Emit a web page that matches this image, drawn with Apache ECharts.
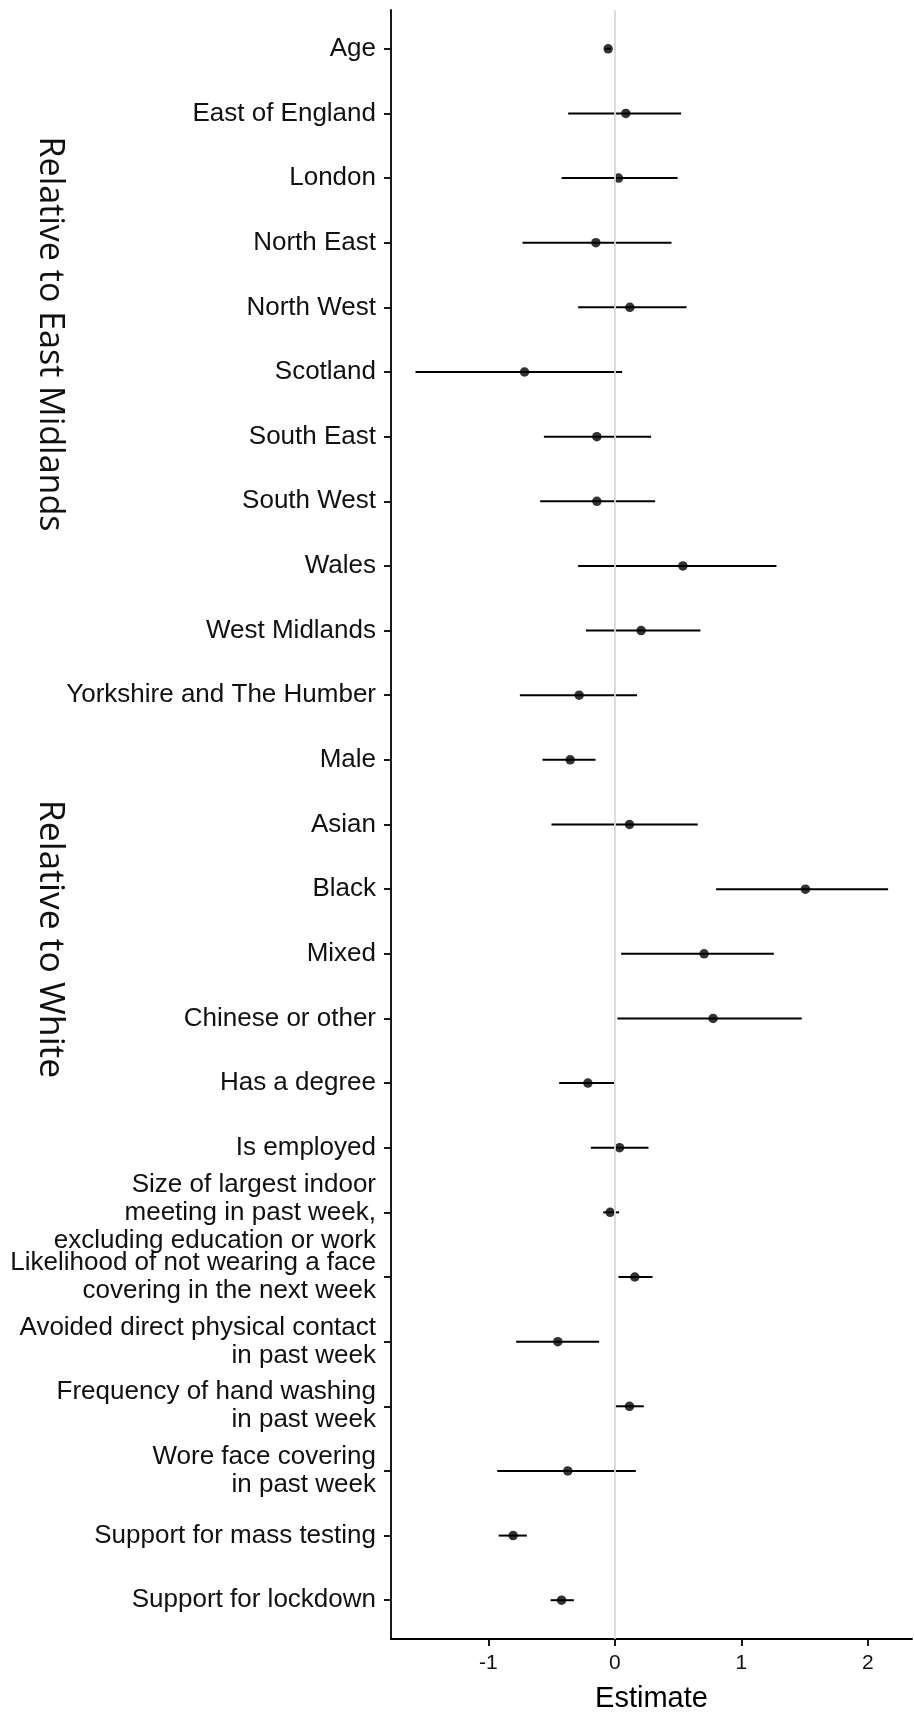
<!DOCTYPE html>
<html>
<head>
<meta charset="utf-8">
<script src="https://cdn.jsdelivr.net/npm/echarts@6/dist/echarts.min.js"></script>
<style>
html,body{margin:0;padding:0;background:#fff;}
#chart{width:914px;height:1712px;}
</style>
</head>
<body>
<div id="chart"></div>
<script>
const labels = [
  "Age",
  "East of England",
  "London",
  "North East",
  "North West",
  "Scotland",
  "South East",
  "South West",
  "Wales",
  "West Midlands",
  "Yorkshire and The Humber",
  "Male",
  "Asian",
  "Black",
  "Mixed",
  "Chinese or other",
  "Has a degree",
  "Is employed",
  "Size of largest indoor\nmeeting in past week,\nexcluding education or work",
  "Likelihood of not wearing a face\ncovering in the next week",
  "Avoided direct physical contact\nin past week",
  "Frequency of hand washing\nin past week",
  "Wore face covering\nin past week",
  "Support for mass testing",
  "Support for lockdown"
];
const estimate = [-0.053, 0.087, 0.029, -0.150, 0.119, -0.714, -0.142, -0.142, 0.538, 0.208, -0.282, -0.353, 0.116, 1.507, 0.706, 0.777, -0.213, 0.037, -0.037, 0.158, -0.451, 0.116, -0.372, -0.804, -0.421];
const lower = [-0.075, -0.369, -0.421, -0.730, -0.290, -1.576, -0.561, -0.590, -0.290, -0.229, -0.751, -0.572, -0.501, 0.801, 0.050, 0.021, -0.440, -0.190, -0.092, 0.029, -0.780, 0.003, -0.930, -0.919, -0.508];
const upper = [-0.030, 0.524, 0.496, 0.448, 0.567, 0.058, 0.287, 0.319, 1.278, 0.677, 0.176, -0.153, 0.656, 2.161, 1.257, 1.478, -0.005, 0.266, 0.034, 0.298, -0.124, 0.229, 0.166, -0.696, -0.324];
const xTicks = [-1, 0, 1, 2];
const groupLabels = ["Relative to East Midlands", "Relative to White"];

const rowIdx = labels.map((_, i) => i);
const pointData = estimate.map((v, i) => [v, i]);
const barData = estimate.map((_, i) => [i, lower[i], upper[i]]);

const chart = echarts.init(document.getElementById('chart'), null, {renderer: 'canvas'});
const labelFont = "'Liberation Sans', Arial, Helvetica, sans-serif";
const groupFont = "'Open Sans', sans-serif";

chart.setOption({
  animation: false,
  backgroundColor: '#ffffff',
  grid: {left: 391, right: 2, top: 10, bottom: 73, containLabel: false, outerBoundsMode: 'none'},
  xAxis: {
    type: 'value',
    min: -1.77,
    max: 2.35,
    name: 'Estimate',
    nameLocation: 'middle',
    nameGap: 45,
    nameTextStyle: {fontFamily: labelFont, fontSize: 29, color: '#000'},
    axisLine: {show: true, onZero: false, lineStyle: {color: '#000', width: 1.8}},
    axisTick: {show: true, length: 7, customValues: xTicks, lineStyle: {color: '#000', width: 1.8}},
    axisLabel: {show: true, customValues: xTicks, margin: 14, fontFamily: labelFont, fontSize: 21, color: '#111'},
    splitLine: {show: false}
  },
  yAxis: {
    type: 'value',
    inverse: true,
    min: -0.6,
    max: 24.6,
    axisLine: {show: true, onZero: false, lineStyle: {color: '#000', width: 1.8}},
    axisTick: {show: true, length: 7, customValues: rowIdx, lineStyle: {color: '#000', width: 1.8}},
    axisLabel: {
      show: true,
      customValues: rowIdx,
      margin: 15,
      align: 'right',
      fontFamily: labelFont,
      fontSize: 26,
      lineHeight: 28,
      color: '#111',
      formatter: v => labels[Math.round(v)]
    },
    splitLine: {show: false}
  },
  graphic: [
    {type: 'text', x: 50, y: 334, rotation: -Math.PI / 2,
     style: {text: groupLabels[0], fontFamily: groupFont, fontSize: 34, fill: '#111', align: 'center', verticalAlign: 'middle'}},
    {type: 'text', x: 50, y: 939, rotation: -Math.PI / 2,
     style: {text: groupLabels[1], fontFamily: groupFont, fontSize: 35.5, fill: '#111', align: 'center', verticalAlign: 'middle'}}
  ],
  series: [
    {
      type: 'line',
      data: [],
      z: 1,
      markLine: {
        silent: true,
        symbol: ['none', 'none'],
        label: {show: false},
        lineStyle: {color: '#d9d9d9', width: 1.8, type: 'solid'},
        data: [{xAxis: 0}]
      }
    },
    {
      type: 'custom',
      z: 3,
      data: barData,
      encode: {x: [1, 2], y: 0},
      renderItem: function (params, api) {
        const i = api.value(0);
        const p1 = api.coord([api.value(1), i]);
        const p2 = api.coord([api.value(2), i]);
        return {
          type: 'line',
          shape: {x1: p1[0], y1: p1[1], x2: p2[0], y2: p2[1]},
          style: {stroke: '#000', lineWidth: 2}
        };
      }
    },
    {
      type: 'scatter',
      z: 4,
      symbol: 'circle',
      symbolSize: 9.5,
      itemStyle: {color: '#000'},
      data: pointData
    }
  ]
});
</script>
</body>
</html>
